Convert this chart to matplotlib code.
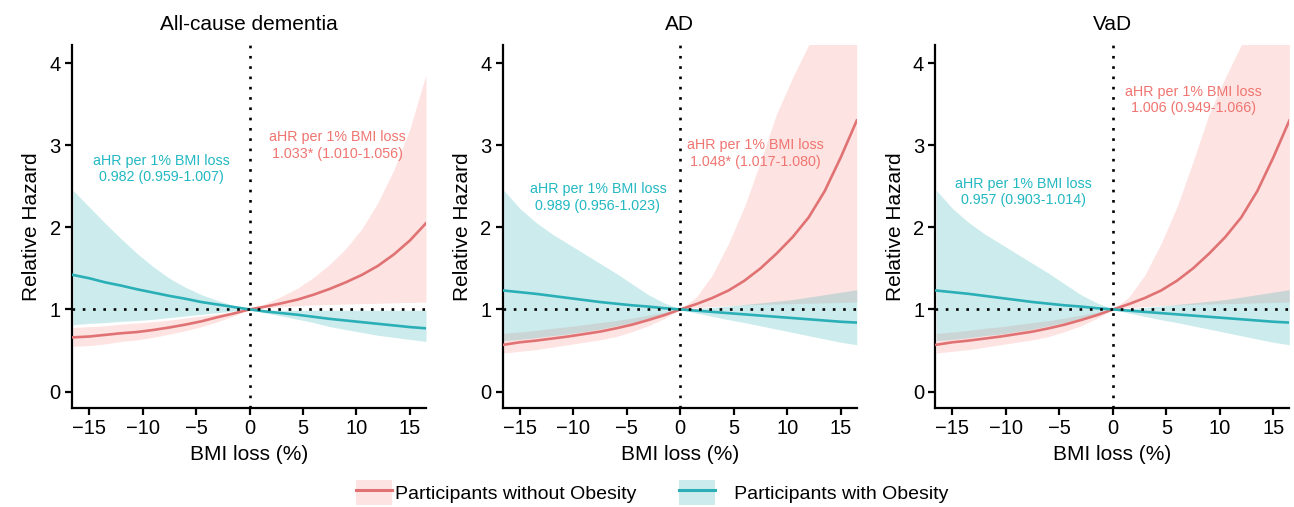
import matplotlib

matplotlib.use("Agg")
import matplotlib.pyplot as plt
from matplotlib.patches import Patch
from matplotlib.lines import Line2D
from matplotlib.legend_handler import HandlerTuple

plt.rcParams["font.family"] = ["Liberation Sans", "DejaVu Sans"]

bmi_loss = [-16.5, -15, -13.5, -12, -10.5, -9, -7.5, -6, -4.5, -3, -1.5, 0,
            1.5, 3, 4.5, 6, 7.5, 9, 10.5, 12, 13.5, 15, 16.5]

# All-cause dementia
ac_red = [0.66, 0.67, 0.69, 0.71, 0.725, 0.75, 0.78, 0.815, 0.855, 0.905, 0.95, 1.0,
          1.035, 1.075, 1.12, 1.18, 1.25, 1.33, 1.42, 1.53, 1.67, 1.84, 2.05]
ac_red_lo = [0.55, 0.56, 0.58, 0.61, 0.63, 0.66, 0.70, 0.74, 0.79, 0.85, 0.92, 1.0,
             1.02, 1.035, 1.045, 1.055, 1.06, 1.065, 1.07, 1.075, 1.08, 1.085, 1.09]
ac_red_hi = [0.78, 0.79, 0.80, 0.82, 0.835, 0.85, 0.87, 0.895, 0.92, 0.945, 0.97, 1.0,
             1.07, 1.16, 1.26, 1.39, 1.55, 1.74, 1.98, 2.30, 2.70, 3.20, 3.86]
ac_teal = [1.42, 1.38, 1.33, 1.29, 1.245, 1.205, 1.165, 1.13, 1.09, 1.06, 1.03, 1.0,
           0.975, 0.955, 0.935, 0.91, 0.885, 0.865, 0.845, 0.825, 0.805, 0.785, 0.77]
ac_teal_lo = [0.815, 0.83, 0.84, 0.855, 0.865, 0.88, 0.90, 0.92, 0.94, 0.96, 0.98, 1.0,
              0.955, 0.92, 0.88, 0.84, 0.79, 0.755, 0.72, 0.685, 0.66, 0.635, 0.61]
ac_teal_hi = [2.45, 2.25, 2.05, 1.86, 1.68, 1.52, 1.38, 1.27, 1.18, 1.11, 1.05, 1.0,
              0.995, 0.99, 0.99, 0.99, 0.99, 0.99, 0.99, 0.99, 0.99, 0.99, 0.99]

# AD
ad_red = [0.57, 0.60, 0.62, 0.645, 0.67, 0.70, 0.73, 0.77, 0.815, 0.87, 0.93, 1.0,
          1.065, 1.14, 1.23, 1.35, 1.50, 1.68, 1.88, 2.12, 2.44, 2.85, 3.30]
ad_red_lo = [0.47, 0.49, 0.51, 0.54, 0.57, 0.60, 0.63, 0.67, 0.73, 0.80, 0.89, 1.0,
             1.02, 1.035, 1.045, 1.055, 1.06, 1.065, 1.07, 1.075, 1.08, 1.085, 1.09]
ad_red_hi = [0.71, 0.725, 0.745, 0.77, 0.79, 0.815, 0.84, 0.865, 0.895, 0.93, 0.965, 1.0,
             1.15, 1.42, 1.80, 2.25, 2.80, 3.38, 3.82, 4.22, 4.60, 4.95, 5.30]
ad_teal = [1.23, 1.21, 1.19, 1.165, 1.14, 1.115, 1.09, 1.07, 1.05, 1.035, 1.015, 1.0,
           0.985, 0.97, 0.955, 0.94, 0.925, 0.91, 0.895, 0.88, 0.865, 0.85, 0.84]
ad_teal_lo = [0.62, 0.635, 0.655, 0.68, 0.70, 0.73, 0.76, 0.80, 0.84, 0.89, 0.94, 1.0,
              0.955, 0.915, 0.875, 0.84, 0.80, 0.76, 0.72, 0.68, 0.64, 0.60, 0.57]
ad_teal_hi = [2.45, 2.23, 2.06, 1.92, 1.80, 1.68, 1.56, 1.44, 1.31, 1.18, 1.08, 1.0,
              1.01, 1.025, 1.04, 1.06, 1.08, 1.10, 1.12, 1.15, 1.18, 1.21, 1.24]

# VaD
vad_red = [0.57, 0.60, 0.62, 0.645, 0.67, 0.70, 0.73, 0.77, 0.815, 0.87, 0.93, 1.0,
           1.065, 1.14, 1.23, 1.35, 1.50, 1.68, 1.88, 2.12, 2.44, 2.85, 3.30]
vad_red_lo = [0.47, 0.49, 0.51, 0.54, 0.57, 0.60, 0.63, 0.67, 0.73, 0.80, 0.89, 1.0,
              1.02, 1.035, 1.045, 1.055, 1.06, 1.065, 1.07, 1.075, 1.08, 1.085, 1.09]
vad_red_hi = [0.71, 0.725, 0.745, 0.77, 0.79, 0.815, 0.84, 0.865, 0.895, 0.93, 0.965, 1.0,
              1.15, 1.42, 1.80, 2.25, 2.80, 3.38, 3.82, 4.22, 4.60, 4.95, 5.30]
vad_teal = [1.23, 1.21, 1.19, 1.165, 1.14, 1.115, 1.09, 1.07, 1.05, 1.035, 1.015, 1.0,
            0.985, 0.97, 0.955, 0.94, 0.925, 0.91, 0.895, 0.88, 0.865, 0.85, 0.84]
vad_teal_lo = [0.62, 0.635, 0.655, 0.68, 0.70, 0.73, 0.76, 0.80, 0.84, 0.89, 0.94, 1.0,
               0.955, 0.915, 0.875, 0.84, 0.80, 0.76, 0.72, 0.68, 0.64, 0.60, 0.57]
vad_teal_hi = [2.45, 2.23, 2.06, 1.92, 1.80, 1.68, 1.56, 1.44, 1.31, 1.18, 1.08, 1.0,
               1.01, 1.025, 1.04, 1.06, 1.08, 1.10, 1.12, 1.15, 1.18, 1.21, 1.24]

titles = ["All-cause dementia", "AD", "VaD"]
teal_notes = ["aHR per 1% BMI loss\n0.982 (0.959-1.007)",
              "aHR per 1% BMI loss\n0.989 (0.956-1.023)",
              "aHR per 1% BMI loss\n0.957 (0.903-1.014)"]
red_notes = ["aHR per 1% BMI loss\n1.033* (1.010-1.056)",
             "aHR per 1% BMI loss\n1.048* (1.017-1.080)",
             "aHR per 1% BMI loss\n1.006 (0.949-1.066)"]
teal_note_pos = [(-8.2, 2.71), (-7.7, 2.36), (-8.4, 2.43)]
red_note_pos = [(8.2, 3.0), (7.0, 2.9), (7.5, 3.55)]

panels = [
    (ac_red, ac_red_lo, ac_red_hi, ac_teal, ac_teal_lo, ac_teal_hi),
    (ad_red, ad_red_lo, ad_red_hi, ad_teal, ad_teal_lo, ad_teal_hi),
    (vad_red, vad_red_lo, vad_red_hi, vad_teal, vad_teal_lo, vad_teal_hi),
]

RED_LINE = "#E07274"
TEAL_LINE = "#2AAFB6"
RED_FILL = "#F8766D"
TEAL_FILL = "#2AAFB6"
RED_TEXT = "#F07470"
TEAL_TEXT = "#22B8C2"
DOTS = (0, (1, 2.9))

fig = plt.figure(figsize=(12.94, 5.07), dpi=100)
lefts = [0.0556, 0.3885, 0.7228]

for i, (red, red_lo, red_hi, teal, teal_lo, teal_hi) in enumerate(panels):
    ax = fig.add_axes([lefts[i], 0.1953, 0.2736, 0.716])
    ax.fill_between(bmi_loss, red_lo, red_hi, color=RED_FILL, alpha=0.2, lw=0)
    ax.fill_between(bmi_loss, teal_lo, teal_hi, color=TEAL_FILL, alpha=0.24, lw=0)
    ax.plot(bmi_loss, red, color=RED_LINE, lw=1.9, zorder=3)
    ax.plot(bmi_loss, teal, color=TEAL_LINE, lw=1.9, zorder=3)
    ax.axhline(1, color="black", lw=1.9, ls=DOTS, zorder=4)
    ax.axvline(0, color="black", lw=1.9, ls=DOTS, zorder=4)

    ax.text(*teal_note_pos[i], teal_notes[i], color=TEAL_TEXT, fontsize=10.3,
            ha="center", va="center", linespacing=1.25)
    ax.text(*red_note_pos[i], red_notes[i], color=RED_TEXT, fontsize=10.3,
            ha="center", va="center", linespacing=1.25)

    ax.set_xlim(-16.6, 16.5)
    ax.set_ylim(-0.2, 4.22)
    ax.set_xticks([-15, -10, -5, 0, 5, 10, 15])
    ax.set_yticks([0, 1, 2, 3, 4])
    for side in ["top", "right"]:
        ax.spines[side].set_visible(False)
    for side in ["left", "bottom"]:
        ax.spines[side].set_linewidth(1.6)
    ax.tick_params(width=1.6, length=5, labelsize=14.5, colors="black", pad=3)
    ax.set_title(titles[i], fontsize=15, pad=11)
    ax.set_xlabel("BMI loss (%)", fontsize=15, labelpad=5)
    ax.set_ylabel("Relative Hazard", fontsize=15, labelpad=6)

red_handle = (Patch(facecolor=RED_FILL, alpha=0.2, lw=0), Line2D([], [], color=RED_LINE, lw=2.2))
teal_handle = (Patch(facecolor=TEAL_FILL, alpha=0.24, lw=0), Line2D([], [], color=TEAL_LINE, lw=2.2))
fig.legend([red_handle, teal_handle],
           ["Participants without Obesity", "   Participants with Obesity"],
           handler_map={tuple: HandlerTuple(ndivide=1)},
           loc="center", bbox_to_anchor=(0.504, 0.028), ncol=2, frameon=False,
           fontsize=14, handlelength=1.85, handleheight=1.6, handletextpad=0.15,
           columnspacing=2.2, borderpad=0)

fig.savefig("out.png", dpi=100)
